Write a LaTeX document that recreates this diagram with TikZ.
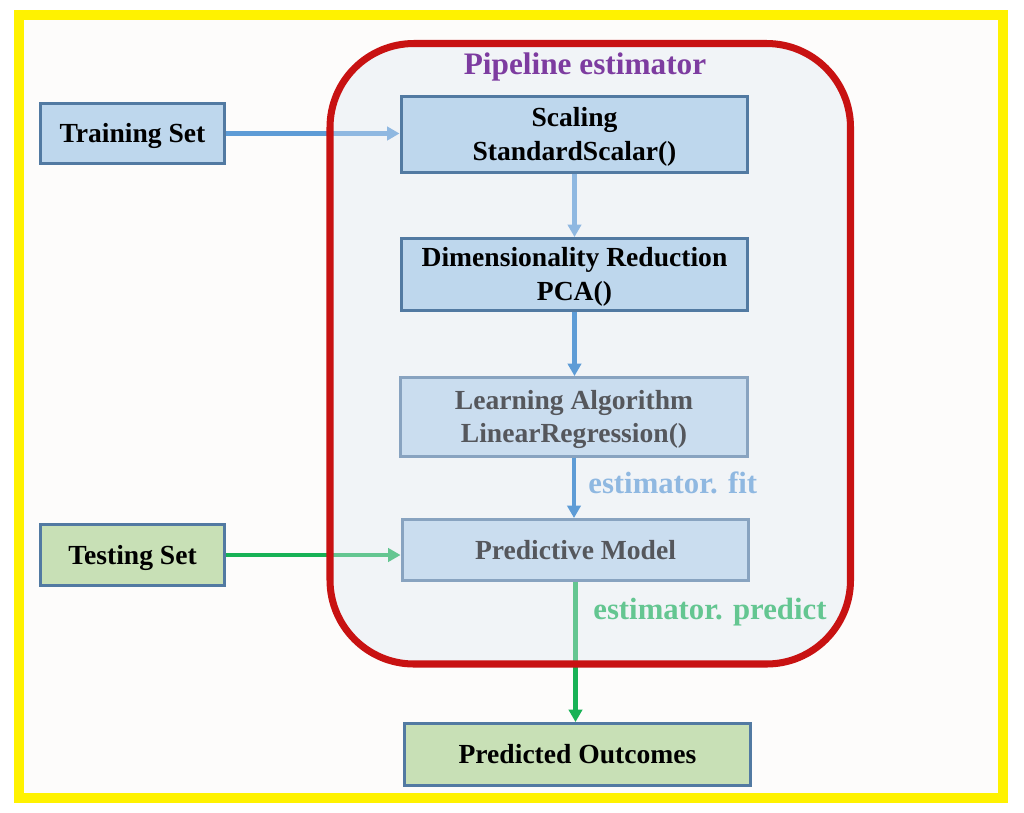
\documentclass[tikz,border=0pt]{standalone}
\usepackage{fontspec}
\setmainfont{Liberation Serif}
\usetikzlibrary{arrows.meta}

\definecolor{edgeblue}{RGB}{82,122,162}
\definecolor{boxblue}{RGB}{190,215,237}
\definecolor{boxgreen}{RGB}{200,224,182}
\definecolor{lineblue}{RGB}{94,156,214}
\definecolor{linegreen}{RGB}{24,178,86}
\definecolor{pipered}{RGB}{200,18,18}
\definecolor{veilblue}{RGB}{224,231,243}
\definecolor{paper}{RGB}{253,252,251}
\definecolor{titlepurple}{RGB}{125,60,160}

\newcommand\bxfont{\fontsize{15.7}{19}\selectfont\bfseries}
\newcommand\lblfont{\fontsize{17.5}{20}\selectfont\bfseries}
\newcommand\ttlfont{\fontsize{17.8}{20}\selectfont\bfseries}

\pgfdeclarelayer{back}
\pgfdeclarelayer{under}
\pgfdeclarelayer{veil}
\pgfsetlayers{back,under,veil,main}

\tikzset{
  stage/.style={draw=edgeblue, line width=1.7pt, fill=boxblue, inner sep=0pt,
    minimum width=6.94cm, align=center, font=\bxfont,
    text height=10.4pt, text depth=0pt},
  twoline/.style={text height=29.4pt},
  dataset/.style={stage, minimum width=3.68cm},
  flowlabel/.style={font=\lblfont, inner sep=0pt, anchor=base west},
  flow/.style={line width=2.3pt, -{Triangle[length=7pt,width=7.5pt]}},
}

\begin{document}
\begin{tikzpicture}[x=0.02cm, y=-0.02cm]
\useasboundingbox (0,0) rectangle (1024,812);
% Frame
\begin{pgfonlayer}{back}
\fill[white] (0,0) rectangle (1024,812);
\fill[paper] (19,15) rectangle (1002.5,798);
\draw[yellow, line width=5.7pt] (19,15) rectangle (1002.5,798);
\end{pgfonlayer}
% Nodes
\node[dataset, minimum height=1.2cm] (train) at (132.5,133.5) {Training Set};
\node[stage, twoline, minimum height=1.52cm] (scale) at (574.5,134.5) {Scaling\\StandardScalar()};
\node[stage, twoline, minimum height=1.44cm] (dim) at (574.5,274.5) {Dimensionality Reduction\\PCA()};
\node[dataset, fill=boxgreen, minimum height=1.22cm] (test) at (132.5,555) {Testing Set};
\node[stage, fill=boxgreen, minimum height=1.24cm] (outcome) at (577.5,754.5) {Predicted Outcomes};
\node[text=titlepurple, font=\ttlfont, anchor=base] (title) at (585,74) {Pipeline estimator};
\begin{pgfonlayer}{under}
\node[stage, twoline, minimum height=1.58cm] (learn) at (574,417) {Learning Algorithm\\LinearRegression()};
\node[stage, minimum height=1.22cm] (pred) at (575.5,550) {Predictive Model};
\node[flowlabel, text=lineblue] (fit) at (588,493) {estimator. fit};
\node[flowlabel, text=linegreen] (predict) at (593,619) {estimator. predict};
% Lines
\draw[flow, lineblue] (train.east) -- (train.east -| scale.west);
\draw[flow, lineblue] (scale.south) -- (scale.south |- dim.north);
\draw[flow, linegreen] (test.east) -- (test.east -| pred.west);
\draw[flow, linegreen] (pred.south) -- (pred.south |- outcome.north);
\end{pgfonlayer}
% Pipeline
\begin{pgfonlayer}{veil}
\filldraw[draw=pipered, line width=4pt, fill=veilblue, fill opacity=0.38,
  rounded corners=1.68cm] (330,43.5) rectangle (850.5,664);
\end{pgfonlayer}
\draw[flow, lineblue] (dim.south) -- (dim.south |- learn.north);
\draw[flow, lineblue] (learn.south) -- (learn.south |- pred.north);
\end{tikzpicture}
\end{document}
